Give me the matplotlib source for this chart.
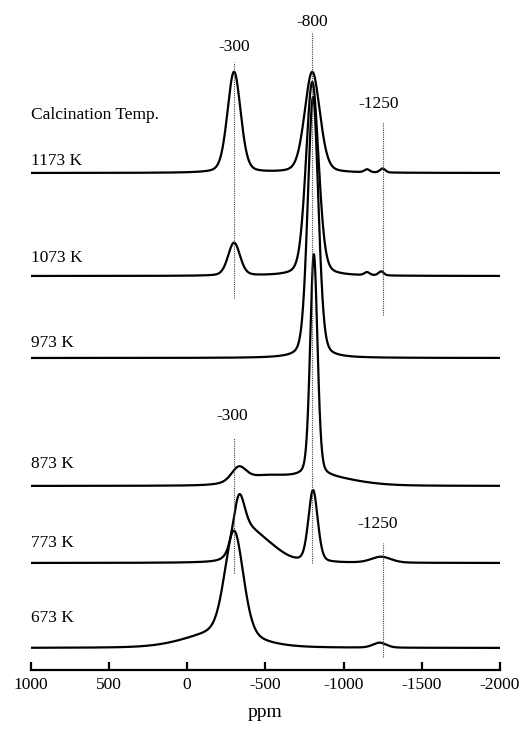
import numpy as np
import matplotlib
matplotlib.use("Agg")
import matplotlib.pyplot as plt

plt.rcParams["font.family"] = ["Liberation Serif", "DejaVu Serif"]

# ── DATA ─────────────────────────────────────────────────────────────────────
temps = ["1173 K", "1073 K", "973 K", "873 K", "773 K", "673 K"]
# vertical offset of each trace (stacking), in plot units
offsets = [497, 394, 312, 184, 107, 22]

# peaks per spectrum: (shift ppm, height, fwhm ppm)
peaks_1173 = [(-300, 101, 100), (-800, 101, 115), (-1150, 3, 40), (-1250, 4, 40)]
peaks_1073 = [(-300, 33, 90), (-800, 194, 95), (-1150, 3, 40), (-1240, 4, 40)]
peaks_973 = [(-805, 261, 80)]
peaks_873 = [(-330, 14, 110), (-480, 8, 350), (-810, 222, 55), (-850, 9, 500)]
peaks_773 = [(-330, 48, 85), (-390, 24, 170), (-510, 16, 230), (-805, 72, 70), (-1240, 6, 150)]
peaks_673 = [(-300, 105, 140), (-200, 14, 500), (-1230, 5, 100)]
all_peaks = [peaks_1173, peaks_1073, peaks_973, peaks_873, peaks_773, peaks_673]

x_ticks = [1000, 500, 0, -500, -1000, -1500, -2000]

# reference lines: (ppm, top, bottom) and their labels
ref_lines = [(-300, 608, 372), (-800, 637, 107), (-1250, 548, 355),
             (-300, 232, 97), (-1250, 127, 13)]
ref_labels = [("-300", -300, 623), ("-800", -800, 648), ("-1250", -1225, 566),
              ("-300", -290, 254), ("-1250", -1220, 146)]
label_y = [509, 412, 327, 206, 127, 52]


def pseudo_voigt(x, peaks, eta=0.25):
    y = np.zeros_like(x)
    for c, h, w in peaks:
        d = (x - c) / w
        g = np.exp(-4 * np.log(2) * d ** 2)
        lor = 1.0 / (1 + 4 * d ** 2)
        y += h * (eta * lor + (1 - eta) * g)
    return y


fig = plt.figure(figsize=(5.31, 7.30), dpi=100)
ax = fig.add_axes([0.0578, 0.0822, 0.8838, 0.9178])

x = np.linspace(1000, -2000, 2000)
for name, off, pk in zip(temps, offsets, all_peaks):
    ax.plot(x, off + pseudo_voigt(x, pk), color="black", lw=1.6)

for ppm, top, bot in ref_lines:
    ax.plot([ppm, ppm], [bot, top], color="#444444", lw=0.8, ls=(0, (1, 1)))

for txt, px, py in ref_labels:
    ax.text(px, py, txt, ha="center", va="center", fontsize=12.5)

for name, ly in zip(temps, label_y):
    ax.text(1000, ly, name, ha="left", va="center", fontsize=12.5)
ax.text(1000, 555, "Calcination Temp.", ha="left", va="center", fontsize=12.5)

ax.set_xlim(1000, -2000)
ax.set_ylim(0, 670)
ax.set_xticks(x_ticks)
ax.set_xticklabels([str(t) for t in x_ticks], fontsize=12.5)
ax.set_yticks([])
for s in ["left", "right", "top"]:
    ax.spines[s].set_visible(False)
ax.spines["bottom"].set_linewidth(1.6)
ax.tick_params(axis="x", direction="in", length=6, width=1.6, pad=5)
ax.set_xlabel("ppm", fontsize=14, labelpad=8)

fig.savefig("out.png", dpi=100)
